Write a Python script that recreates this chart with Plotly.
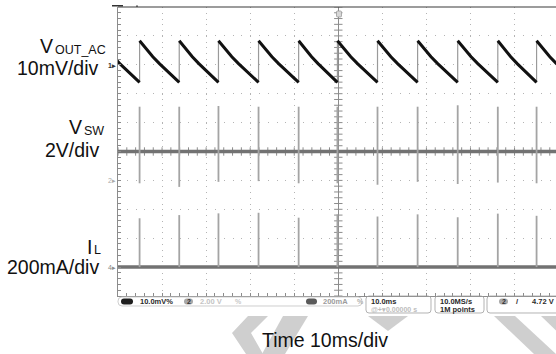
import plotly.graph_objects as go

# ---------------- figure geometry ----------------
W, H = 556, 354
L, T, B = 118, 7, 58                 # screen (graticule) margins in px
PW, PH = W - L, H - T - B            # 438 x 289
PX_PER_DIV_X = 44.06
MS_PER_DIV = 10.0
X0 = -50.0                           # left edge of graticule, ms (centre = 0)
X1 = X0 + PW / PX_PER_DIV_X * MS_PER_DIV

# ---------------- measured data ----------------
# switching events (ms, relative to trigger at screen centre)
switch_ms = [-45.1, -36.1, -27.2, -18.1, -9.0, -0.2, 8.9, 18.0, 27.1, 36.2, 45.0]
period_ms = 9.0

# output ripple over one switching cycle (fraction of cycle -> mV, AC coupled)
ripple_frac = [0.0, 1 / 6, 2 / 6, 3 / 6, 4 / 6, 5 / 6, 1.0]
ripple_mv = [8.3, 5.4, 2.8, 0.4, -1.8, -4.0, -6.1]

# switch node: level between pulses and pulse extremes (V)
vsw_base_v = 2.0
vsw_high_v = [5.1, 5.1, 5.15, 5.1, 5.1, 5.1, 5.1, 5.1, 5.2, 5.1, 5.1]
vsw_low_v = [-0.2, -0.45, -0.1, -0.05, -0.2, -0.2, -0.3, -0.1, -0.25, -0.15, -0.2]

# inductor current peaks (mA), baseline 0 mA
il_base_ma = 0.0
il_peak_ma = [338, 360, 372, 376, 342, 365, 350, 365, 345, 370, 355]

# channel scale / offset (div)
VOUT_MV_PER_DIV, VOUT_OFS = 10.0, 3.0
VSW_V_PER_DIV, VSW_OFS = 2.0, -1.0
IL_MA_PER_DIV, IL_OFS = 200.0, -4.0


def vout_div(mv):
    return VOUT_OFS + mv / VOUT_MV_PER_DIV


def vsw_div(v):
    return VSW_OFS + v / VSW_V_PER_DIV


def il_div(ma):
    return IL_OFS + ma / IL_MA_PER_DIV


# ---------------- build traces ----------------
starts = [switch_ms[0] - period_ms] + switch_ms
ends = switch_ms + [switch_ms[-1] + period_ms]

ramp_x, ramp_y = [], []
for t0, t1 in zip(starts, ends):
    for f, mv in zip(ripple_frac, ripple_mv):
        ramp_x.append(t0 + f * (t1 - t0))
        ramp_y.append(vout_div(mv))
    ramp_x.append(None)
    ramp_y.append(None)

jump_x, jump_y = [], []
for t in switch_ms:
    jump_x += [t, t, None]
    jump_y += [vout_div(ripple_mv[-1]), vout_div(ripple_mv[0]), None]

sw_x, sw_y = [], []
for t, lo, hi in zip(switch_ms, vsw_low_v, vsw_high_v):
    sw_x += [t, t, None]
    sw_y += [vsw_div(lo), vsw_div(hi), None]

il_x, il_y = [], []
for t, pk in zip(switch_ms, il_peak_ma):
    il_x += [t, t, None]
    il_y += [il_div(il_base_ma), il_div(pk), None]

fig = go.Figure()

# graticule tick marks on the centre cross
cx_ticks = [X0 + 2 * k for k in range(int((X1 - X0) / 2) + 1)]
cy_ticks = [-5 + 0.2 * k for k in range(51)]
fig.add_trace(go.Scatter(x=[0] * len(cy_ticks), y=cy_ticks, mode="markers",
                         marker=dict(symbol="line-ew", size=6, line=dict(width=1, color="#8c8c8c")),
                         hoverinfo="skip"))
fig.add_trace(go.Scatter(x=cx_ticks, y=[0] * len(cx_ticks), mode="markers",
                         marker=dict(symbol="line-ns", size=6, line=dict(width=1, color="#8c8c8c")),
                         hoverinfo="skip"))

# switch node and inductor current baselines
fig.add_trace(go.Scatter(x=[X0, X1], y=[vsw_div(vsw_base_v)] * 2, mode="lines",
                         line=dict(color="#727272", width=3.5), hoverinfo="skip"))
fig.add_trace(go.Scatter(x=[X0, X1], y=[il_div(il_base_ma)] * 2, mode="lines",
                         line=dict(color="#727272", width=3.5), hoverinfo="skip"))
# switching pulses
fig.add_trace(go.Scatter(x=sw_x, y=sw_y, mode="lines",
                         line=dict(color="#a4a4a4", width=1.8), hoverinfo="skip"))
fig.add_trace(go.Scatter(x=il_x, y=il_y, mode="lines",
                         line=dict(color="#a4a4a4", width=1.8), hoverinfo="skip"))
# output ripple
fig.add_trace(go.Scatter(x=jump_x, y=jump_y, mode="lines",
                         line=dict(color="#9a9a9a", width=1.2), hoverinfo="skip"))
fig.add_trace(go.Scatter(x=ramp_x, y=ramp_y, mode="lines",
                         line=dict(color="#111111", width=3), hoverinfo="skip"))

# ---------------- helpers for screen decorations ----------------
def px(x):
    return (x - L) / PW


def py(y):
    return (H - B - y) / PH


def pt(x, y):
    return f"{px(x):.5f},{py(y):.5f}"


def rrect(x0, y0, x1, y1, r):
    return (f"M{pt(x0 + r, y0)} L{pt(x1 - r, y0)} Q{pt(x1, y0)} {pt(x1, y0 + r)} "
            f"L{pt(x1, y1 - r)} Q{pt(x1, y1)} {pt(x1 - r, y1)} L{pt(x0 + r, y1)} "
            f"Q{pt(x0, y1)} {pt(x0, y1 - r)} L{pt(x0, y0 + r)} Q{pt(x0, y0)} {pt(x0 + r, y0)} Z")


def poly(points):
    return "M" + " L".join(pt(x, y) for x, y in points) + " Z"


shapes = []


def add_path(path, fill=None, line="rgba(0,0,0,0)", lw=1):
    shapes.append(dict(type="path", xref="paper", yref="paper", path=path,
                       fillcolor=fill if fill else "rgba(0,0,0,0)",
                       line=dict(color=line, width=lw), layer="above"))


def note(x, y, text, size, color, anchor="left", family="Liberation Sans"):
    fig.add_annotation(x=px(x), y=py(y), xref="paper", yref="paper", text=text,
                       showarrow=False, xanchor=anchor, yanchor="middle",
                       font=dict(family=family, size=size, color=color), borderpad=0)


# watermark chevrons
WM = "#cfcfcf"
add_path(poly([(248, 316), (268, 316), (251, 333), (263, 354), (246, 354), (232, 333)]), fill=WM)
add_path(poly([(283, 316), (308, 316), (285, 354), (262, 354)]), fill=WM)
add_path(poly([(368, 316), (408, 316), (388, 331)]), fill=WM)
add_path(poly([(494, 316), (515, 316), (556, 354), (534, 354)]), fill=WM)
add_path(poly([(541, 316), (560, 316), (600, 354), (580, 354)]), fill=WM)

# top edge of the screen and small markers
shapes.append(dict(type="line", xref="paper", yref="paper", x0=0, x1=1, y0=1, y1=1,
                   line=dict(color="#3a3a3a", width=1.2), layer="above"))
add_path(poly([(112, 5), (123, 5), (123, 6.5), (112, 6.5)]), fill="#333")
add_path(poly([(136, 5.5), (138, 5.5), (138, 7), (136, 7)]), fill="#555")
add_path(rrect(336.5, 11, 341.5, 17, 1), fill="#d8d8d8", line="#9a9a9a", lw=0.8)

# status bar
add_path(rrect(118, 297, 362, 306, 4), line="#c2c2c2", lw=0.8)
add_path(rrect(121, 298.5, 133, 304.5, 3), fill="#1e1e1e")
add_path(rrect(184, 298.5, 193, 304.5, 3), fill="#a8a8a8")
add_path(rrect(306, 298.5, 317, 304.5, 3), fill="#5a5a5a")
add_path(rrect(366, 296, 431, 313, 3), line="#a0a0a0", lw=0.8)
add_path(rrect(435, 296, 484, 313, 3), line="#a0a0a0", lw=0.8)
add_path(rrect(487, 296, 566, 313, 3), line="#a0a0a0", lw=0.8)
add_path(rrect(499, 298.5, 508, 304.5, 3), fill="#a8a8a8")

fig.update_layout(shapes=shapes)

SB = 7.5
note(139, 301.5, "<b>10.0mV%</b>", SB, "#2a2a2a")
note(188.5, 301.5, "<b>2</b>", 7, "#333", anchor="center")
note(199, 301.5, "<b>2.00 V</b>", SB, "#c4c4c4")
note(234, 301.5, "<b>%</b>", 7, "#c8c8c8")
note(322, 301.5, "<b>200mA</b>", SB, "#9c9c9c")
note(356, 301.5, "<b>%</b>", 7, "#b0b0b0")
note(370, 301.8, "<b>10.0ms</b>", SB, "#2a2a2a")
note(370, 309.2, "<b>@+▾0.00000 s</b>", 7, "#bdbdbd")
note(439, 301.8, "<b>10.0MS/s</b>", SB, "#2a2a2a")
note(439, 309.2, "<b>1M points</b>", SB, "#2a2a2a")
note(503.5, 301.5, "<b>2</b>", 7, "#333", anchor="center")
note(515, 301.5, "<b>/</b>", SB, "#2a2a2a")
note(531, 301.8, "<b>4.72 V</b>", SB, "#2a2a2a")

# channel ground markers at the left edge of the screen
note(117, 65, "<b>1▸</b>", 7, "#333", anchor="right")
note(117, 180.4, "2▸", 7, "#aaaaaa", anchor="right")
note(117, 267, "4▸", 7, "#8a8a8a", anchor="right")

# channel and time labels (main letter + subscript drawn side by side)
LF, SF = 19.5, 12.5
note(54, 46, "V", LF, "#111", anchor="right")
note(54, 49.5, "OUT_AC", SF, "#111", anchor="left")
note(100, 68, "10mV/div", LF, "#111", anchor="right")
note(83, 127.5, "V", LF, "#111", anchor="right")
note(83, 131, "SW", SF, "#111", anchor="left")
note(100, 150, "2V/div", LF, "#111", anchor="right")
note(93, 246.5, "I", LF, "#111", anchor="right")
note(93, 249.5, "L", SF, "#111", anchor="left")
note(100, 267, "200mA/div", LF, "#111", anchor="right")
note(325, 339.5, "Time 10ms/div", LF, "#111", anchor="center")

AX = "#8c8c8c"
fig.update_layout(
    width=W, height=H,
    margin=dict(l=L, r=0, t=T, b=B, pad=0),
    paper_bgcolor="white", plot_bgcolor="white",
    showlegend=False,
    xaxis=dict(range=[X0, X1], dtick=10, tick0=0, showgrid=True, gridcolor="#b4b4b4",
               gridwidth=1, griddash="1px,4.78px", zeroline=True, zerolinecolor=AX,
               zerolinewidth=1, showline=True, linecolor=AX, linewidth=1,
               ticks="inside", ticklen=3, tickcolor=AX, showticklabels=False,
               minor=dict(dtick=2, tick0=0, ticks="inside", ticklen=3, tickcolor=AX,
                          showgrid=False),
               fixedrange=True),
    yaxis=dict(range=[-5, 5], dtick=1, tick0=0, showgrid=True, gridcolor="#b4b4b4",
               gridwidth=1, griddash="1px,7.81px", zeroline=True, zerolinecolor=AX,
               zerolinewidth=1, showline=True, linecolor=AX, linewidth=1,
               ticks="inside", ticklen=3, tickcolor=AX, showticklabels=False,
               minor=dict(dtick=0.2, tick0=0, ticks="inside", ticklen=3, tickcolor=AX,
                          showgrid=False),
               fixedrange=True),
)

fig.write_html("out.html", config={"displayModeBar": False})
